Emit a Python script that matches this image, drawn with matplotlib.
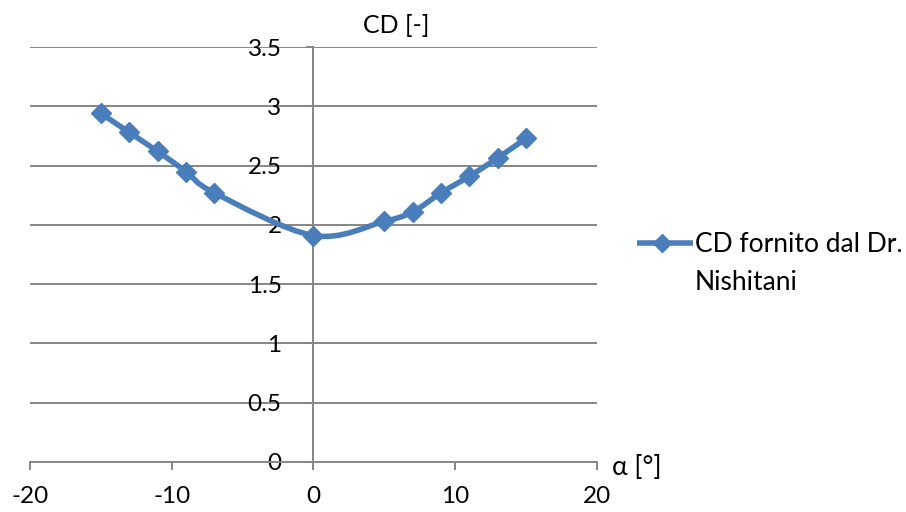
import matplotlib
matplotlib.use("Agg")
import matplotlib.pyplot as plt
from matplotlib.path import Path
from matplotlib.patches import PathPatch
from matplotlib.lines import Line2D
import numpy as np

# Data
alpha = [-15, -13, -11, -9, -7, 0, 5, 7, 9, 11, 13, 15]
cd = [2.94, 2.78, 2.62, 2.45, 2.27, 1.91, 2.03, 2.11, 2.27, 2.41, 2.565, 2.73]
x_ticks = [-20, -10, 0, 10, 20]
y_ticks = [0, 0.5, 1, 1.5, 2, 2.5, 3, 3.5]
series_label_1 = "CD fornito dal Dr."
series_label_2 = "Nishitani"
y_title = "CD [-]"
x_title = "α [°]"

BLUE = "#4A7EBB"
GRAY = "#868686"
FONT = "Lato"
FS = 17.5

plt.rcParams['font.family'] = [FONT, 'DejaVu Sans']

W, H = 906, 512
fig = plt.figure(figsize=(W / 100, H / 100), dpi=100)
ax = fig.add_axes([30 / W, (H - 462) / H, 567 / W, 415 / H])
ax.set_xlim(-20, 20)
ax.set_ylim(0, 3.5)

# spines
ax.spines['top'].set_visible(False)
ax.spines['right'].set_visible(False)
ax.spines['left'].set_position(('data', 0))
for s in ('left', 'bottom'):
    ax.spines[s].set_color(GRAY)
    ax.spines[s].set_linewidth(1.4)

ax.set_xticks(x_ticks)
ax.set_xticklabels([f"{t:g}" for t in x_ticks])
ax.set_yticks(y_ticks)
ax.set_yticklabels([f"{t:g}" for t in y_ticks])
ax.tick_params(axis='x', direction='out', length=6, width=1.4, color=GRAY,
               labelsize=FS, pad=11)
ax.tick_params(axis='y', direction='out', length=5, width=1.4, color=GRAY,
               labelsize=FS, pad=18)
ax.grid(axis='y', color=GRAY, linewidth=1.4)
ax.set_axisbelow(True)

# smoothed line (Catmull-Rom style Bezier, like Excel smoothing)
P = np.column_stack([alpha, cd])
n = len(P)
verts = [tuple(P[0])]
codes = [Path.MOVETO]
for i in range(n - 1):
    p0 = P[i - 1] if i > 0 else P[i]
    p1 = P[i]
    p2 = P[i + 1]
    p3 = P[i + 2] if i + 2 < n else P[i + 1]
    c1 = p1 + (p2 - p0) / 6.0
    c2 = p2 - (p3 - p1) / 6.0
    verts += [tuple(c1), tuple(c2), tuple(p2)]
    codes += [Path.CURVE4] * 3
patch = PathPatch(Path(verts, codes), facecolor='none', edgecolor=BLUE,
                  linewidth=4.0, capstyle='round', joinstyle='round', zorder=3)
ax.add_patch(patch)
ax.plot(alpha, cd, linestyle='none', marker='D', markersize=10.5,
        color=BLUE, markeredgecolor=BLUE, zorder=4, clip_on=False)

# axis titles
fig.text(396.5 / W, 1 - 33 / H, y_title, ha='center', va='baseline', fontsize=18)
fig.text(612 / W, 1 - 475 / H, x_title, ha='left', va='baseline', fontsize=19)

# legend
ly = 1 - 243 / H
fig.add_artist(Line2D([637 / W, 693 / W], [ly, ly], transform=fig.transFigure,
                      color=BLUE, linewidth=4.0, solid_capstyle='butt'))
fig.add_artist(Line2D([662 / W], [ly], transform=fig.transFigure,
                      color=BLUE, marker='D', markersize=9, linestyle='none'))
fig.text(695 / W, 1 - 252 / H, series_label_1, ha='left', va='baseline', fontsize=19)
fig.text(695 / W, 1 - 290 / H, series_label_2, ha='left', va='baseline', fontsize=19)

fig.savefig("out.png", dpi=100)
